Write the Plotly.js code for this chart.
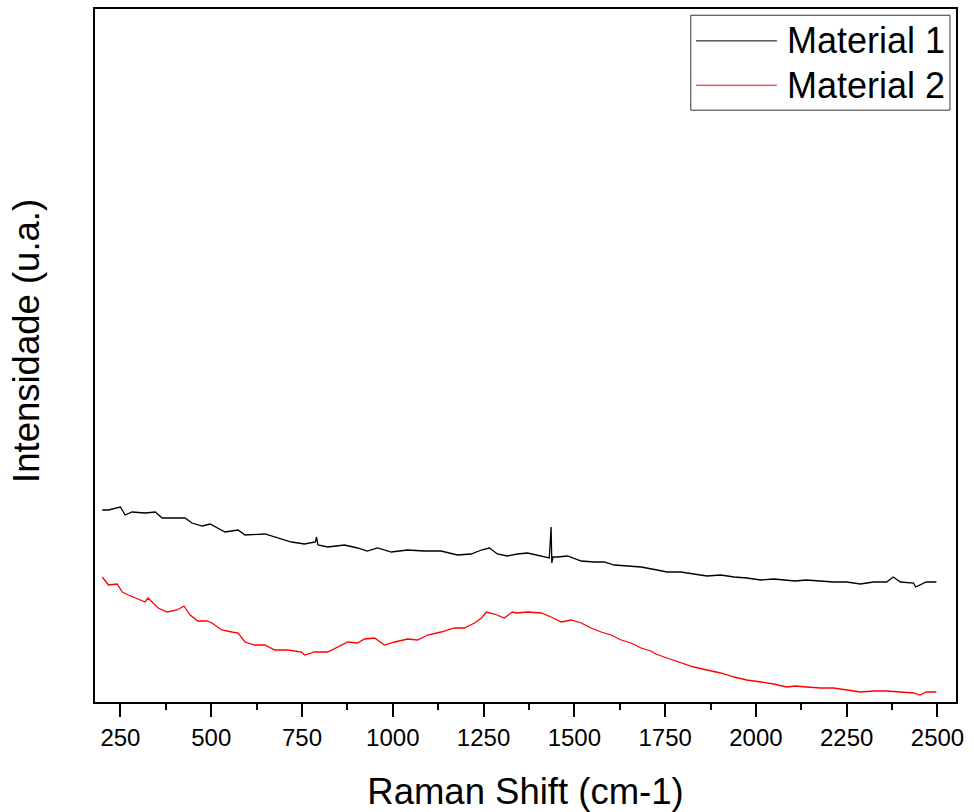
<!DOCTYPE html>
<html>
<head>
<meta charset="utf-8">
<script src="https://cdn.plot.ly/plotly-3.0.1.min.js"></script>
<style>html,body{margin:0;padding:0;background:#fff;}#chart{width:974px;height:812px;}</style>
</head>
<body>
<div id="chart"></div>
<script>
// Raman shift (cm-1) and intensity (a.u.)
const shift1 = [200,217,250,263,282,318,346,365,400,428,447,475,497,519,538,574,593,648,683,721,757,787,790,794,821,867,903,930,958,996,1041,1087,1133,1178,1216,1244,1266,1288,1315,1343,1371,1409,1431,1436,1438,1441,1453,1481,1519,1555,1582,1610,1645,1684,1728,1755,1793,1829,1865,1903,1940,1975,2013,2049,2085,2108,2139,2178,2214,2250,2288,2324,2360,2378,2398,2434,2440,2469,2497];
const material1 = [192,192,195,187,190,189,190,184,184,184,179,176,178,174,170,172,167,168,164,160,158,160,165,157,155,157,154,151,154,150,152,151,151,147,148,152,154,148,146,148,149,146,144,175,139,145,145,146,141,140,140,137,136,135,132,130,130,128,126,127,125,124,122,123,122,121,122,121,120,120,118,120,120,125,120,119,115,120,120];

const shift2 = [200,217,241,255,272,290,318,326,354,379,406,425,442,463,488,502,529,557,574,593,620,648,675,711,749,757,785,821,848,876,903,922,950,977,1005,1041,1068,1096,1133,1170,1197,1225,1244,1258,1280,1307,1329,1341,1371,1409,1436,1464,1491,1519,1546,1574,1601,1629,1656,1684,1711,1724,1755,1793,1829,1865,1903,1940,1975,2013,2049,2085,2108,2139,2178,2214,2250,2288,2324,2360,2398,2434,2452,2469,2497];
const material2 = [125,117,118,110,107,104,100,104,94,90,92,96,87,81,81,79,72,70,69,60,57,57,52,52,50,47,50,50,55,60,59,63,64,57,60,63,62,67,70,74,74,79,84,90,88,84,90,89,90,89,85,80,82,79,74,70,67,62,59,54,51,48,44,39,35,32,29,25,22,20,18,15,16,15,14,14,12,10,11,11,10,9,7,10,10];

const seriesNames = ["Material 1", "Material 2"];
const seriesColors = ["#000000", "#ff0000"];
const tickVals = [250,500,750,1000,1250,1500,1750,2000,2250,2500];
const xTitle = "Raman Shift (cm-1)";
const yTitle = "Intensidade (u.a.)";

const traces = [
  {x: shift1, y: material1, name: seriesNames[0], type: "scatter", mode: "lines",
   line: {color: seriesColors[0], width: 1.3}},
  {x: shift2, y: material2, name: seriesNames[1], type: "scatter", mode: "lines",
   line: {color: seriesColors[1], width: 1.3}}
];

const F = "Arial, 'Liberation Sans', sans-serif";

// custom legend (paper coordinates)
const legShapes = [
  {type: "rect", xref: "paper", yref: "paper", x0: 0.692, x1: 0.993, y0: 0.854, y1: 0.991,
   line: {color: "#333", width: 1}, fillcolor: "rgba(0,0,0,0)"},
  {type: "line", xref: "paper", yref: "paper", x0: 0.698, x1: 0.792, y0: 0.954, y1: 0.954,
   line: {color: seriesColors[0], width: 1}},
  {type: "line", xref: "paper", yref: "paper", x0: 0.698, x1: 0.792, y0: 0.890, y1: 0.890,
   line: {color: seriesColors[1], width: 1}}
];
const anns = [
  {xref: "paper", yref: "paper", x: 0.801, y: 0.954, xanchor: "left", yanchor: "middle",
   text: seriesNames[0], showarrow: false, font: {family: F, size: 36, color: "#000"}},
  {xref: "paper", yref: "paper", x: 0.801, y: 0.890, xanchor: "left", yanchor: "middle",
   text: seriesNames[1], showarrow: false, font: {family: F, size: 36, color: "#000"}},
  {xref: "paper", yref: "paper", x: 0, y: 0.521, xanchor: "center", yanchor: "middle",
   xshift: -68, textangle: -90, text: yTitle, showarrow: false,
   font: {family: F, size: 36.5, color: "#000"}}
];

const layout = {
  width: 974, height: 812,
  margin: {l: 95, r: 18, t: 9, b: 110},
  paper_bgcolor: "#fff", plot_bgcolor: "#fff",
  showlegend: false,
  font: {family: F, color: "#000"},
  xaxis: {
    range: [180, 2551],
    tickmode: "array", tickvals: tickVals, ticktext: tickVals.map(String),
    ticks: "outside", ticklen: 13, tickwidth: 2, tickcolor: "#000",
    minor: {dtick: 125, tick0: 125, ticks: "outside", ticklen: 6, tickwidth: 2, tickcolor: "#000"},
    showline: true, linewidth: 2, linecolor: "#000", mirror: true,
    showgrid: false, zeroline: false,
    tickfont: {family: F, size: 24, color: "#000"},
    title: {text: xTitle, font: {family: F, size: 36.5, color: "#000"}, standoff: 33}
  },
  yaxis: {
    range: [0, 693],
    showticklabels: false, ticks: "",
    showline: true, linewidth: 2, linecolor: "#000", mirror: true,
    showgrid: false, zeroline: false
  },
  shapes: legShapes,
  annotations: anns
};

Plotly.newPlot("chart", traces, layout, {displayModeBar: false, staticPlot: true});
</script>
</body>
</html>
